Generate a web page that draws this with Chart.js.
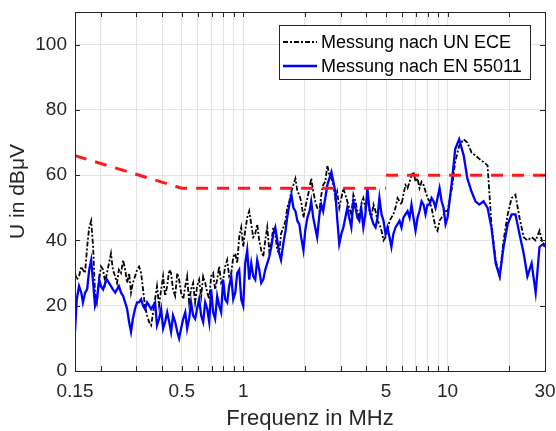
<!DOCTYPE html>
<html lang="de">
<head>
<meta charset="utf-8">
<title>Störspannung</title>
<script src="https://cdn.jsdelivr.net/npm/chart.js@4.4.0/dist/chart.umd.min.js"></script>
<style>
  html, body { margin: 0; padding: 0; background: #fff; }
</style>
</head>
<body>
<canvas id="chart" width="556" height="431"></canvas>
<script>
// frequency points in MHz
const freq = [
  0.150,0.153,0.157,0.161,0.164,0.168,0.172,0.176,0.180,0.184,
  0.188,0.192,0.197,0.201,0.206,0.211,0.215,0.220,0.225,0.230,
  0.236,0.241,0.246,0.252,0.258,0.264,0.270,0.276,0.282,0.288,
  0.295,0.302,0.309,0.316,0.323,0.330,0.338,0.346,0.354,0.362,
  0.370,0.378,0.387,0.396,0.405,0.414,0.424,0.434,0.443,0.453,
  0.464,0.475,0.485,0.496,0.508,0.520,0.531,0.543,0.555,0.568,
  0.581,0.594,0.608,0.622,0.636,0.651,0.666,0.681,0.696,0.712,
  0.728,0.745,0.762,0.779,0.797,0.815,0.834,0.853,0.873,0.893,
  0.913,0.934,0.955,0.977,0.999,1.022,1.045,1.069,1.094,1.119,
  1.144,1.170,1.197,1.224,1.252,1.281,1.310,1.340,1.371,1.402,
  1.434,1.467,1.50,1.53,1.57,1.61,1.64,1.68,1.72,1.76,
  1.80,1.84,1.88,1.92,1.97,2.01,2.06,2.11,2.15,2.20,
  2.25,2.30,2.36,2.41,2.46,2.52,2.58,2.64,2.70,2.76,
  2.82,2.88,2.95,3.02,3.09,3.16,3.23,3.30,3.38,3.46,
  3.54,3.62,3.70,3.78,3.87,3.96,4.05,4.14,4.24,4.34,
  4.44,4.54,4.64,4.75,4.86,4.97,5.08,5.20,5.31,5.43,
  5.56,5.69,5.82,5.95,6.08,6.22,6.37,6.52,6.66,6.81,
  6.97,7.13,7.29,7.46,7.63,7.80,7.98,8.16,8.35,8.54,
  8.73,8.93,9.14,9.35,9.56,9.78,
  10.0,10.5,10.9,11.4,12.0,12.5,13.1,13.7,14.3,15.0,
  15.7,16.4,17.2,18.0,18.8,19.7,20.6,21.5,22.5,23.6,
  24.6,25.8,27.0,28.2,29.5,30.0
];
// dBµV, measurement per UN ECE (black dash-dot)
const unEce = [
  30,28,29,32,31,30,38,44,46,38,
  24,21,28,32,31,27,30,33,36,31,
  29,27,31,30,34,31,27,30,24,27,
  29,31,32,30,25,20,17,15,14,18,
  22,26,20,25,29,23,26,31,30,25,
  23,30,28,24,22,26,29,21,25,27,
  21,26,28,23,29,27,24,22,29,30,
  25,28,32,27,28,32,34,29,30,35,
  36,33,41,44,38,43,47,49,45,41,
  42,45,40,37,35,40,44,37,39,44,
  42,37,36,42,44,46,50,52,55,57,
  59,55,54,52,47,50,53,56,59,55,
  52,50,49,54,57,58,63,60,59,57,
  53,55,50,53,56,54,52,50,48,54,
  52,49,47,51,53,50,54,49,47,51,
  49,46,45,43,40,41,43,46,47,48,
  50,53,52,51,54,57,56,58,60,61,
  58,59,56,58,57,55,53,52,50,47,
  44,43,46,47,48,49,
  49,56,64,69,71,70,67,66,65,64,
  63,45,34,29,40,48,53,54,47,41,
  40,41,40,43,38,39
];
// dBµV, measurement per EN 55011 (blue)
const en55011 = [
  12,22,26,24,21,24,25,31,34,27,
  20,22,28,26,25,27,28,27,26,25,
  24,25,26,24,23,21,19,15,12,16,
  19,21,21,22,20,19,21,20,19,20,
  21,14,16,19,13,15,18,15,12,17,
  15,12,10,13,16,18,13,16,21,17,
  16,19,22,17,15,21,19,15,25,18,
  16,23,20,18,28,22,21,26,29,22,
  24,30,31,22,20,33,37,28,33,29,
  28,34,31,27,28,31,33,35,38,42,
  44,40,36,34,39,43,47,51,54,50,
  49,46,45,41,37,43,47,49,52,47,
  44,41,48,51,49,53,57,59,61,58,
  55,47,39,42,44,47,50,47,44,52,
  50,47,46,50,44,48,56,50,47,45,
  44,47,53,48,46,42,44,41,38,42,
  44,45,46,44,47,48,49,47,51,47,
  43,47,49,52,51,48,51,51,53,52,
  50,53,56,52,50,45,
  47,58,68,71,66,59,55,52,51,52,
  50,44,33,29,38,45,48,48,42,36,
  29,33,24,38,39,38
];
// limit line (red dashed), gap at the 5 MHz step
const limitFreq = [0.15, 0.5, 5, 5, 5, 30];
const limitLevel = [66, 56, 56, null, 60, 60];

const xGrid = [0.15,0.2,0.3,0.4,0.5,0.6,0.7,0.8,0.9,1,2,3,4,5,6,7,8,9,10,20,30];
const xLabels = [0.15,0.5,1,5,10,30];
const yTicks = [0,20,40,60,80,100];

Chart.defaults.font.family = "'Liberation Sans', Arial, sans-serif";

const pts = (xs, ys) => xs.map((f, i) => ({x: f, y: ys[i]}));

// axis box, inner ticks and legend drawn inside the plot like the original
const boxPlugin = {
  id: 'box',
  afterDatasetsDraw(chart) {
    const {ctx, chartArea: a, scales: {x, y}} = chart;
    ctx.save();
    ctx.strokeStyle = '#262626';
    ctx.lineWidth = 1;
    ctx.beginPath();
    xGrid.forEach(v => {
      const px = Math.round(x.getPixelForValue(v)) + 0.5;
      ctx.moveTo(px, a.bottom); ctx.lineTo(px, a.bottom - 5);
      ctx.moveTo(px, a.top); ctx.lineTo(px, a.top + 5);
    });
    yTicks.forEach(v => {
      const py = Math.round(y.getPixelForValue(v)) + 0.5;
      ctx.moveTo(a.left, py); ctx.lineTo(a.left + 5, py);
      ctx.moveTo(a.right, py); ctx.lineTo(a.right - 5, py);
    });
    ctx.stroke();
    ctx.strokeRect(Math.round(a.left) + 0.5, Math.round(a.top) + 0.5,
                   Math.round(a.right - a.left), Math.round(a.bottom - a.top));

    // legend
    ctx.fillStyle = '#fff';
    ctx.fillRect(279.5, 25.5, 251, 54);
    ctx.strokeStyle = '#262626';
    ctx.setLineDash([]);
    ctx.strokeRect(279.5, 25.5, 251, 54);
    ctx.font = "18px 'Liberation Sans', Arial, sans-serif";
    ctx.textBaseline = 'middle';
    [0, 1].forEach((di, row) => {
      const ds = chart.data.datasets[di];
      const ly = 42 + row * 24;
      ctx.beginPath();
      ctx.strokeStyle = ds.borderColor;
      ctx.lineWidth = ds.borderWidth;
      ctx.setLineDash(ds.borderDash || []);
      ctx.moveTo(283, ly); ctx.lineTo(317, ly);
      ctx.stroke();
      ctx.setLineDash([]);
      ctx.fillStyle = '#000';
      ctx.fillText(ds.label, 321, ly + 1);
    });
    ctx.restore();
  }
};

new Chart(document.getElementById('chart').getContext('2d'), {
  type: 'line',
  data: {
    datasets: [
      {
        label: 'Messung nach UN ECE',
        data: pts(freq, unEce),
        borderColor: '#000000',
        borderWidth: 1.8,
        borderDash: [5, 2, 2, 2],
        pointRadius: 0,
        order: 3
      },
      {
        label: 'Messung nach EN 55011',
        data: pts(freq, en55011),
        borderColor: '#0000ff',
        borderWidth: 2.3,
        pointRadius: 0,
        order: 2
      },
      {
        label: 'Grenzwert',
        data: pts(limitFreq, limitLevel),
        borderColor: '#ff1a1a',
        borderWidth: 3,
        borderDash: [12, 9],
        pointRadius: 0,
        spanGaps: false,
        order: 1
      }
    ]
  },
  options: {
    responsive: false,
    animation: false,
    events: [],
    layout: { padding: { top: 12, right: 11, left: 0, bottom: 0 } },
    plugins: { legend: { display: false }, tooltip: { enabled: false } },
    scales: {
      x: {
        type: 'logarithmic',
        min: 0.15,
        max: 30,
        afterBuildTicks: s => { s.ticks = xGrid.map(v => ({value: v})); },
        afterFit: s => { s.height = 60; s.paddingLeft = 0; s.paddingRight = 0; },
        grid: { color: '#e4e4e4', drawTicks: false },
        border: { display: false },
        ticks: {
          autoSkip: false,
          maxRotation: 0,
          padding: 9,
          color: '#262626',
          font: { size: 19 },
          callback: v => xLabels.includes(v) ? String(v) : ''
        },
        title: {
          display: true,
          text: 'Frequenz in MHz',
          color: '#262626',
          font: { size: 22, lineHeight: 1 },
          padding: { top: 0, bottom: 1 }
        }
      },
      y: {
        min: 0,
        max: 110,
        afterBuildTicks: s => { s.ticks = yTicks.map(v => ({value: v})); },
        afterFit: s => { s.width = 75; s.paddingTop = 0; s.paddingBottom = 0; },
        grid: { color: '#e4e4e4', drawTicks: false },
        border: { display: false },
        ticks: {
          padding: 8,
          color: '#262626',
          font: { size: 19 }
        },
        title: {
          display: true,
          text: 'U in dBμV',
          color: '#262626',
          font: { size: 21 },
          padding: { top: 6, bottom: 0 }
        }
      }
    }
  },
  plugins: [boxPlugin]
});
</script>
</body>
</html>
